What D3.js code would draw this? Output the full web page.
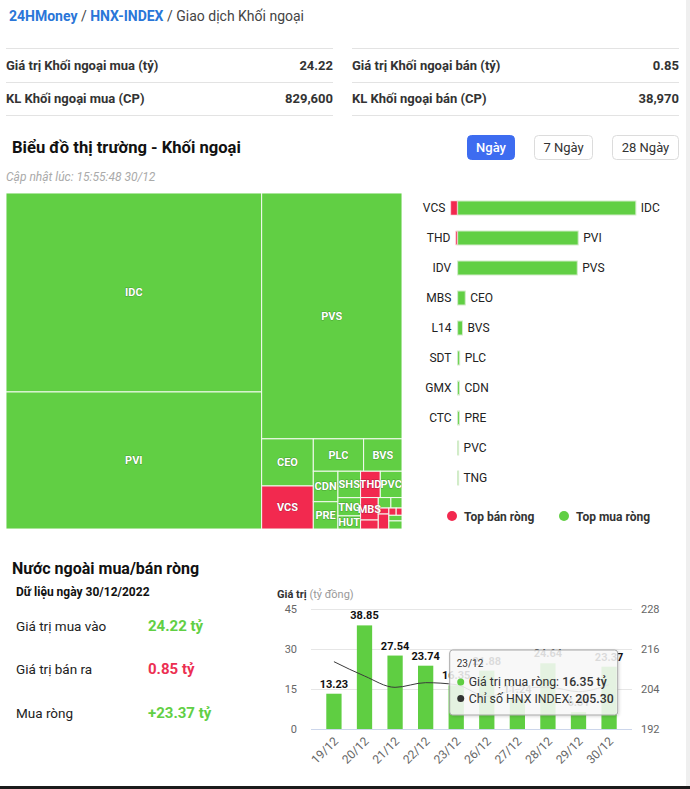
<!DOCTYPE html>
<html><head><meta charset="utf-8">
<script src="https://cdn.jsdelivr.net/npm/d3@7"></script>
<style>
html,body{margin:0;padding:0;background:#fff;}
svg{display:block;font-family:Roboto,"Noto Sans",Arial,sans-serif;}
</style>
</head><body>
<svg id="c" width="690" height="789"></svg>
<script>
// ---------- DATA ----------
const breadcrumb = ["24HMoney", "HNX-INDEX", "Giao dịch Khối ngoại"];
const statLabels = ["Giá trị Khối ngoại mua (tỷ)", "Giá trị Khối ngoại bán (tỷ)", "KL Khối ngoại mua (CP)", "KL Khối ngoại bán (CP)"];
const statValues = ["24.22", "0.85", "829,600", "38,970"];
const sectionTitle = "Biểu đồ thị trường - Khối ngoại";
const periodButtons = ["Ngày", "7 Ngày", "28 Ngày"];
const updatedText = "Cập nhật lúc: 15:55:48 30/12";

// treemap (giá trị giao dịch, tỷ) ; side: 1 = mua ròng, -1 = bán ròng
const treemapCodes  = ["IDC","PVI","PVS","CEO","VCS","PLC","BVS","CDN","PRE","SHS","TNG","HUT","THD","PVC","MBS","IDV","VIG","NVB","L14","CTC","SDT","GMX","DXP","TIG"];
const treemapValues = [9.61, 6.62, 6.52, 0.46, 0.42, 0.308, 0.235, 0.142, 0.127, 0.113, 0.078, 0.056, 0.098, 0.108, 0.075, 0.03, 0.025, 0.022, 0.012, 0.03, 0.01, 0.008, 0.014, 0.02];
const treemapSide   = [1,1,1,1,-1,1,1,1,1,1,1,1,-1,1,-1,-1,1,1,-1,-1,-1,-1,1,1];

const topBuyCodes   = ["IDC","PVI","PVS","CEO","BVS","PLC","CDN","PRE","PVC","TNG"];
const topBuyValues  = [9.61, 6.5, 6.45, 0.41, 0.26, 0.11, 0.10, 0.10, 0.05, 0.04];
const topSellCodes  = ["VCS","THD","IDV","MBS","L14","SDT","GMX","CTC"];
const topSellValues = [0.34, 0.07, 0.02, 0.015, 0.01, 0.008, 0.005, 0.003];
const legendLabels  = ["Top bán ròng", "Top mua ròng"];

const netTitle   = "Nước ngoài mua/bán ròng";
const netDate    = "Dữ liệu ngày 30/12/2022";
const netLabels  = ["Giá trị mua vào", "Giá trị bán ra", "Mua ròng"];
const netValues  = ["24.22 tỷ", "0.85 tỷ", "+23.37 tỷ"];

const days     = ["19/12","20/12","21/12","22/12","23/12","26/12","27/12","28/12","29/12","30/12"];
const netBuy   = [13.23, 38.85, 27.54, 23.74, 16.35, 21.88, 11.24, 24.64, 6.31, 23.37];
const hnxIndex = [212.2, 207.9, 204.5, 205.9, 205.3, 201.8, 203.9, 204.6, 203.2, 205.3];
const leftTicks  = [0, 15, 30, 45];
const rightTicks = [192, 204, 216, 228];
const tooltipIndex = 4;

// ---------- STYLE ----------
const GREEN = "#61cf44", RED = "#f2294f", BLUE = "#2a76d8";
const svg = d3.select("#c");

// page edges
svg.append("rect").attr("x", 686).attr("y", 0).attr("width", 4).attr("height", 789).attr("fill", "#efefef");
svg.append("rect").attr("x", 0).attr("y", 786).attr("width", 690).attr("height", 3).attr("fill", "#1b1b1b");

// breadcrumb
const bc = svg.append("text").attr("x", 9).attr("y", 21).attr("font-size", 14);
bc.append("tspan").attr("fill", BLUE).attr("font-weight", "bold").text(breadcrumb[0]);
bc.append("tspan").attr("fill", "#444").text(" / ");
bc.append("tspan").attr("fill", BLUE).attr("font-weight", "bold").text(breadcrumb[1]);
bc.append("tspan").attr("fill", "#444").text(" / " + breadcrumb[2]);

// stats table
const cols = [{x0: 6, x1: 333}, {x0: 352, x1: 679}];
[48.5, 82.5, 115.5].forEach(y => cols.forEach(c =>
  svg.append("line").attr("x1", c.x0).attr("x2", c.x1).attr("y1", y).attr("y2", y).attr("stroke", "#e3e3e3")));
statLabels.forEach((l, i) => {
  const c = cols[i % 2], y = i < 2 ? 69.5 : 102.5;
  svg.append("text").attr("x", c.x0).attr("y", y).attr("font-size", 13).attr("font-weight", "bold").attr("fill", "#333").text(l);
  svg.append("text").attr("x", c.x1).attr("y", y).attr("text-anchor", "end").attr("font-size", 13).attr("font-weight", "bold").attr("fill", "#333").text(statValues[i]);
});

// section title
svg.append("text").attr("x", 12).attr("y", 153).attr("font-size", 16.6).attr("font-weight", "bold").attr("fill", "#111").text(sectionTitle);

// buttons
const btnX = [[467, 515], [534, 593], [612, 679]];
periodButtons.forEach((b, i) => {
  const [a, z] = btnX[i];
  svg.append("rect").attr("x", a + 0.5).attr("y", 135.5).attr("width", z - a - 1).attr("height", 24).attr("rx", 4)
    .attr("fill", i === 0 ? "#3d6cf0" : "#fff").attr("stroke", i === 0 ? "#3d6cf0" : "#dcdcdc");
  svg.append("text").attr("x", (a + z) / 2).attr("y", 152).attr("text-anchor", "middle").attr("font-size", 13)
    .attr("font-weight", i === 0 ? 500 : 400).attr("fill", i === 0 ? "#fff" : "#333").text(b);
});

svg.append("text").attr("x", 6).attr("y", 181).attr("font-size", 12).attr("font-style", "italic").attr("fill", "#aaa").text(updatedText);

// ---------- TREEMAP ----------
const TM = {x: 6, y: 193, w: 396, h: 336};
const root = d3.hierarchy({children: treemapCodes.map((c, i) => ({code: c, value: treemapValues[i], side: treemapSide[i]}))})
  .sum(d => d.value || 0);
d3.treemap().tile(d3.treemapSquarify.ratio(1)).size([TM.w, TM.h])(root);
svg.append("clipPath").attr("id", "tmclip").append("rect").attr("width", TM.w).attr("height", TM.h);
const tm = svg.append("g").attr("transform", `translate(${TM.x},${TM.y})`);
const tmc = tm.append("g").attr("clip-path", "url(#tmclip)");
tmc.selectAll("rect").data(root.leaves()).join("rect")
  .attr("x", d => d.x0).attr("y", d => d.y0).attr("width", d => d.x1 - d.x0).attr("height", d => d.y1 - d.y0)
  .attr("fill", d => d.data.side > 0 ? GREEN : RED).attr("stroke", "#f4fbf1").attr("stroke-width", 1);
tmc.selectAll("text").data(root.leaves().filter(d => (d.x1 - d.x0) >= 16 && (d.y1 - d.y0) >= 9)).join("text")
  .attr("x", d => (d.x0 + d.x1) / 2).attr("y", d => (d.y0 + d.y1) / 2 + 4)
  .attr("text-anchor", "middle").attr("font-size", 11).attr("font-weight", "bold").attr("fill", "#fff")
  .attr("stroke", "rgba(0,0,0,0.28)").attr("stroke-width", 1).attr("paint-order", "stroke")
  .text(d => d.data.code);

// ---------- TOP BUY / SELL BARS ----------
const rows = d3.range(topBuyCodes.length);
const yb = d3.scaleBand().domain(rows).range([193, 493]).paddingInner(0.533).paddingOuter(0.2665);
const xb = d3.scaleLinear().domain([-1, 10]).range([438.6, 642.6]);
const bars = svg.append("g");
rows.forEach(i => {
  const yy = yb(i), bh = yb.bandwidth();
  bars.append("rect").attr("x", xb(0) + 0.5).attr("y", yy).attr("width", Math.max(1, xb(topBuyValues[i]) - xb(0)))
    .attr("height", bh).attr("fill", GREEN).attr("stroke", "#d3ecca").attr("stroke-width", 1);
  bars.append("text").attr("x", xb(topBuyValues[i]) + 5.5).attr("y", yy + bh / 2 + 4).attr("font-size", 12).attr("fill", "#222").text(topBuyCodes[i]);
  if (i < topSellCodes.length) {
    const v = topSellValues[i];
    if (xb(0) - xb(-v) >= 1) bars.append("rect").attr("x", xb(-v)).attr("y", yy).attr("width", xb(0) - xb(-v))
      .attr("height", bh).attr("fill", RED).attr("stroke", "#f6c9d2").attr("stroke-width", 0.6);
    bars.append("text").attr("x", xb(-v) - 5.5).attr("y", yy + bh / 2 + 4).attr("text-anchor", "end").attr("font-size", 12).attr("fill", "#222").text(topSellCodes[i]);
  }
});
// legend
[[452, RED], [564, GREEN]].forEach(([cx, col], i) => {
  svg.append("circle").attr("cx", cx).attr("cy", 516).attr("r", 5).attr("fill", col);
  svg.append("text").attr("x", cx + 12).attr("y", 520.5).attr("font-size", 12).attr("font-weight", "bold").attr("fill", "#333").text(legendLabels[i]);
});

// ---------- NET SECTION ----------
svg.append("text").attr("x", 12).attr("y", 574).attr("font-size", 16).attr("font-weight", "bold").attr("fill", "#111").text(netTitle);
svg.append("text").attr("x", 16).attr("y", 596).attr("font-size", 12).attr("font-weight", "bold").attr("fill", "#111").text(netDate);
const netColors = [GREEN, "#ec2f52", GREEN];
[631, 673.5, 718].forEach((y, i) => {
  svg.append("text").attr("x", 16).attr("y", y).attr("font-size", 13.5).attr("fill", "#222").text(netLabels[i]);
  svg.append("text").attr("x", 148).attr("y", y).attr("font-size", 15).attr("font-weight", "bold").attr("fill", netColors[i]).text(netValues[i]);
});

// ---------- COMBO CHART ----------
const P = {l: 311, r: 632, t: 609, b: 729};
const x = d3.scaleBand().domain(days).range([P.l, P.r]).padding(0.5);
const yL = d3.scaleLinear().domain([0, 45]).range([P.b, P.t]);
const yR = d3.scaleLinear().domain([192, 228]).range([P.b, P.t]);
const ch = svg.append("g");
const t1 = ch.append("text").attr("x", 277).attr("y", 598).attr("font-size", 11);
t1.append("tspan").attr("font-weight", "bold").attr("fill", "#333").text("Giá trị ");
t1.append("tspan").attr("fill", "#999").text("(tỷ đồng)");

leftTicks.forEach(t => {
  ch.append("line").attr("x1", P.l).attr("x2", P.r).attr("y1", yL(t) + 0.5).attr("y2", yL(t) + 0.5)
    .attr("stroke", t === 0 ? "#ccd6eb" : "#e6e6e6");
  ch.append("text").attr("x", 297).attr("y", yL(t) + 4).attr("text-anchor", "end").attr("font-size", 11).attr("fill", "#666").text(t);
});
rightTicks.forEach(t => {
  ch.append("text").attr("x", 641).attr("y", yR(t) + 4).attr("font-size", 11).attr("fill", "#666").text(t);
});
days.forEach(d => {
  const cx = x(d) + x.bandwidth() / 2;
  ch.append("text").attr("transform", `translate(${cx + 5},${P.b + 13}) rotate(-45)`).attr("text-anchor", "end")
    .attr("font-size", 12).attr("fill", "#666").text(d);
});
ch.selectAll("rect.bar").data(days).join("rect").attr("class", "bar")
  .attr("x", d => x(d)).attr("width", x.bandwidth())
  .attr("y", (d, i) => yL(netBuy[i])).attr("height", (d, i) => yL(0) - yL(netBuy[i])).attr("fill", "#5fce42");
const line = d3.line().x((v, i) => x(days[i]) + x.bandwidth() / 2).y(v => yR(v)).curve(d3.curveMonotoneX);
ch.append("path").attr("d", line(hnxIndex)).attr("fill", "none").attr("stroke", "#3a3a3a").attr("stroke-width", 1);
ch.selectAll("text.dl").data(days).join("text").attr("class", "dl")
  .attr("x", d => x(d) + x.bandwidth() / 2).attr("y", (d, i) => yL(netBuy[i]) - 6)
  .attr("text-anchor", "middle").attr("font-size", 11).attr("font-weight", "bold").attr("fill", "#111")
  .attr("stroke", "#fff").attr("stroke-width", 2).attr("paint-order", "stroke").attr("stroke-linejoin", "round")
  .text((d, i) => d3.format(".2f")(netBuy[i]));

// tooltip
const tcx = x(days[tooltipIndex]) + x.bandwidth() / 2;
const tip = ch.append("g").attr("transform", `translate(${tcx - 6.5},650)`);
const defs = svg.append("defs");
const f = defs.append("filter").attr("id", "sh").attr("x", "-10%").attr("y", "-10%").attr("width", "130%").attr("height", "140%");
f.append("feDropShadow").attr("dx", 1).attr("dy", 1).attr("stdDeviation", 1.5).attr("flood-color", "#000").attr("flood-opacity", 0.18);
tip.append("rect").attr("width", 168).attr("height", 65).attr("rx", 3).attr("fill", "rgba(250,250,250,0.85)")
  .attr("stroke", "#a8a8a8").attr("stroke-width", 1).attr("filter", "url(#sh)");
tip.append("text").attr("x", 7).attr("y", 17).attr("font-size", 10).attr("fill", "#333").text(days[tooltipIndex]);
tip.append("circle").attr("cx", 11).attr("cy", 32).attr("r", 3.5).attr("fill", "#5fce42");
const l1 = tip.append("text").attr("x", 19).attr("y", 36).attr("font-size", 12.3).attr("fill", "#333");
l1.append("tspan").text("Giá trị mua ròng: ");
l1.append("tspan").attr("font-weight", 500).text(d3.format(".2f")(netBuy[tooltipIndex]) + " tỷ");
tip.append("circle").attr("cx", 11).attr("cy", 48.5).attr("r", 3.5).attr("fill", "#333");
const l2 = tip.append("text").attr("x", 19).attr("y", 52.5).attr("font-size", 12.3).attr("fill", "#333");
l2.append("tspan").text("Chỉ số HNX INDEX: ");
l2.append("tspan").attr("font-weight", 500).text(d3.format(".2f")(hnxIndex[tooltipIndex]));
</script>
</body></html>
